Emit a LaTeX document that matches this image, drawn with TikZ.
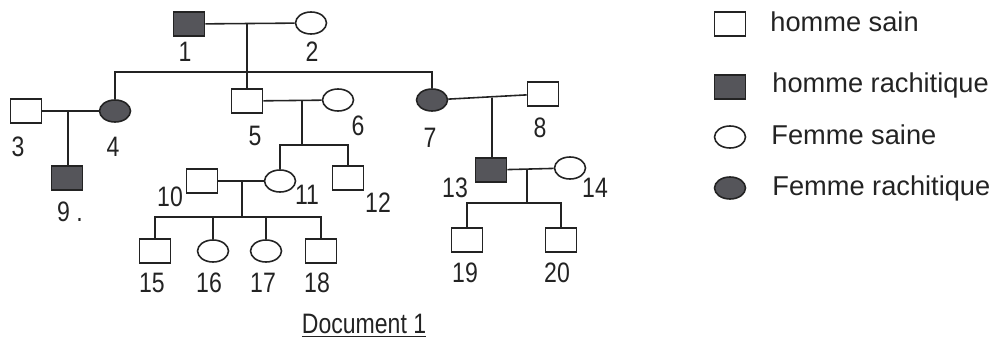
\documentclass[tikz,border=0pt]{standalone}
\usepackage{fontspec}
\setmainfont{Liberation Sans}
\newfontfamily\numfont{Liberation Sans}[FakeStretch=0.82]
\usepackage{tikz}
\usetikzlibrary{shapes.geometric, positioning, calc}
\definecolor{mydark}{RGB}{35,35,35}
\definecolor{mygray}{RGB}{85,85,90}
\tikzset{
  man/.style={rectangle, draw=mydark, minimum width=0.62cm,
    minimum height=0.48cm, inner sep=0pt, line width=0.9pt},
  sickman/.style={man, fill=mygray},
  woman/.style={ellipse, draw=mydark, minimum width=0.62cm,
    minimum height=0.44cm, inner sep=0pt, line width=0.9pt},
  sickwoman/.style={woman, fill=mygray},
  numlabel/.style={font=\numfont\fontsize{16}{19}\selectfont, text=mydark, inner sep=0pt},
  legtext/.style={anchor=west, font=\fontsize{15.5}{19}\selectfont, text=mydark, inner sep=0pt},
  line/.style={line width=0.9pt, color=mydark}
}

\begin{document}
\begin{tikzpicture}[x=0.02cm, y=-0.02cm]
  \useasboundingbox (0,0) rectangle (996,341);

  % Generation I
  \node[sickman] (n1) at (189,24) {};
  \node[woman]   (n2) at (311,23) {};
  \node[numlabel] (l1) at (185,52) {1};
  \node[numlabel] (l2) at (312,52) {2};

  % Generation II
  \node[man]       (n3) at (26,111) {};
  \node[sickwoman] (n4) at (115,111) {};
  \node[man]       (n5) at (247,101) {};
  \node[woman]     (n6) at (338,100) {};
  \node[sickwoman] (n7) at (432,100) {};
  \node[man]       (n8) at (543,94) {};
  \node[numlabel] (l3) at (18,147) {3};
  \node[numlabel] (l4) at (113,147) {4};
  \node[numlabel] (l5) at (255,136) {5};
  \node[numlabel] (l6) at (358,126) {6};
  \node[numlabel] (l7) at (430,138) {7};
  \node[numlabel] (l8) at (540,128) {8};

  % Generation III
  \node[sickman] (n9)  at (67,178) {};
  \node[man]     (n10) at (202,181) {};
  \node[woman]   (n11) at (280,181) {};
  \node[man]     (n12) at (348,178) {};
  \node[sickman] (n13) at (491,170) {};
  \node[woman]   (n14) at (570,168) {};
  \node[numlabel] (l9)  at (70,212) {9 .};
  \node[numlabel] (l10) at (170,197) {10};
  \node[numlabel] (l11) at (307,195) {11};
  \node[numlabel] (l12) at (378,203) {12};
  \node[numlabel] (l13) at (455,188) {13};
  \node[numlabel] (l14) at (595,188) {14};

  % Generation IV
  \node[man]   (n15) at (155,251) {};
  \node[woman] (n16) at (213,251) {};
  \node[woman] (n17) at (266,251) {};
  \node[man]   (n18) at (321,251) {};
  \node[man]   (n19) at (467,240) {};
  \node[man]   (n20) at (561,240) {};
  \node[numlabel] (l15) at (152,283) {15};
  \node[numlabel] (l16) at (209,283) {16};
  \node[numlabel] (l17) at (263,283) {17};
  \node[numlabel] (l18) at (317,283) {18};
  \node[numlabel] (l19) at (465,273) {19};
  \node[numlabel] (l20) at (557,273) {20};

  % Couples and offspring
  \coordinate (m12) at (247,24);
  \coordinate (s12) at (247,72);
  \draw[line] (n1) -- (n2);
  \draw[line] (m12) -- (s12);
  \draw[line] (n4.north) |- (s12) -| (n7.north);
  \draw[line] (s12) -- (n5.north);

  \coordinate (m34) at (68,111);
  \draw[line] (n3) -- (n4);
  \draw[line] (m34) -- (m34 |- n9.north);

  \coordinate (m56) at (302,101);
  \coordinate (s56) at (302,145);
  \draw[line] (n5) -- (n6);
  \draw[line] (m56) -- (s56);
  \draw[line] (n11.north) |- (s56) -| (n12.north);

  \coordinate (m1011) at (242,181);
  \coordinate (s1011) at (242,217);
  \draw[line] (n10) -- (n11);
  \draw[line] (m1011) -- (s1011);
  \draw[line] (n15.north) |- (s1011) -| (n18.north);
  \draw[line] (n16.north) -- (n16.north |- s1011);
  \draw[line] (n17.north) -- (n17.north |- s1011);

  \coordinate (m78) at (492,98);
  \draw[line] (n7) -- (n8);
  \draw[line] (m78) -- (m78 |- n13.north);

  \coordinate (m1314) at (527,170);
  \coordinate (s1314) at (527,203);
  \draw[line] (n13) -- (n14);
  \draw[line] (m1314) -- (s1314);
  \draw[line] (n19.north) |- (s1314) -| (n20.north);

  % Legend
  \node[man]       (k1) at (730,24) {};
  \node[sickman]   (k2) at (730,87) {};
  \node[woman]     (k3) at (730,137) {};
  \node[sickwoman] (k4) at (730,188) {};
  \node[legtext] (t1) at (770,22) {homme sain};
  \node[legtext] (t2) at (772,85) {homme rachitique};
  \node[legtext] (t3) at (771,135) {Femme saine};
  \node[legtext] (t4) at (772,188) {Femme rachitique};

  % Caption
  \node[numlabel] (cap) at (364,326) {\underline{Document 1}};
\end{tikzpicture}
\end{document}
